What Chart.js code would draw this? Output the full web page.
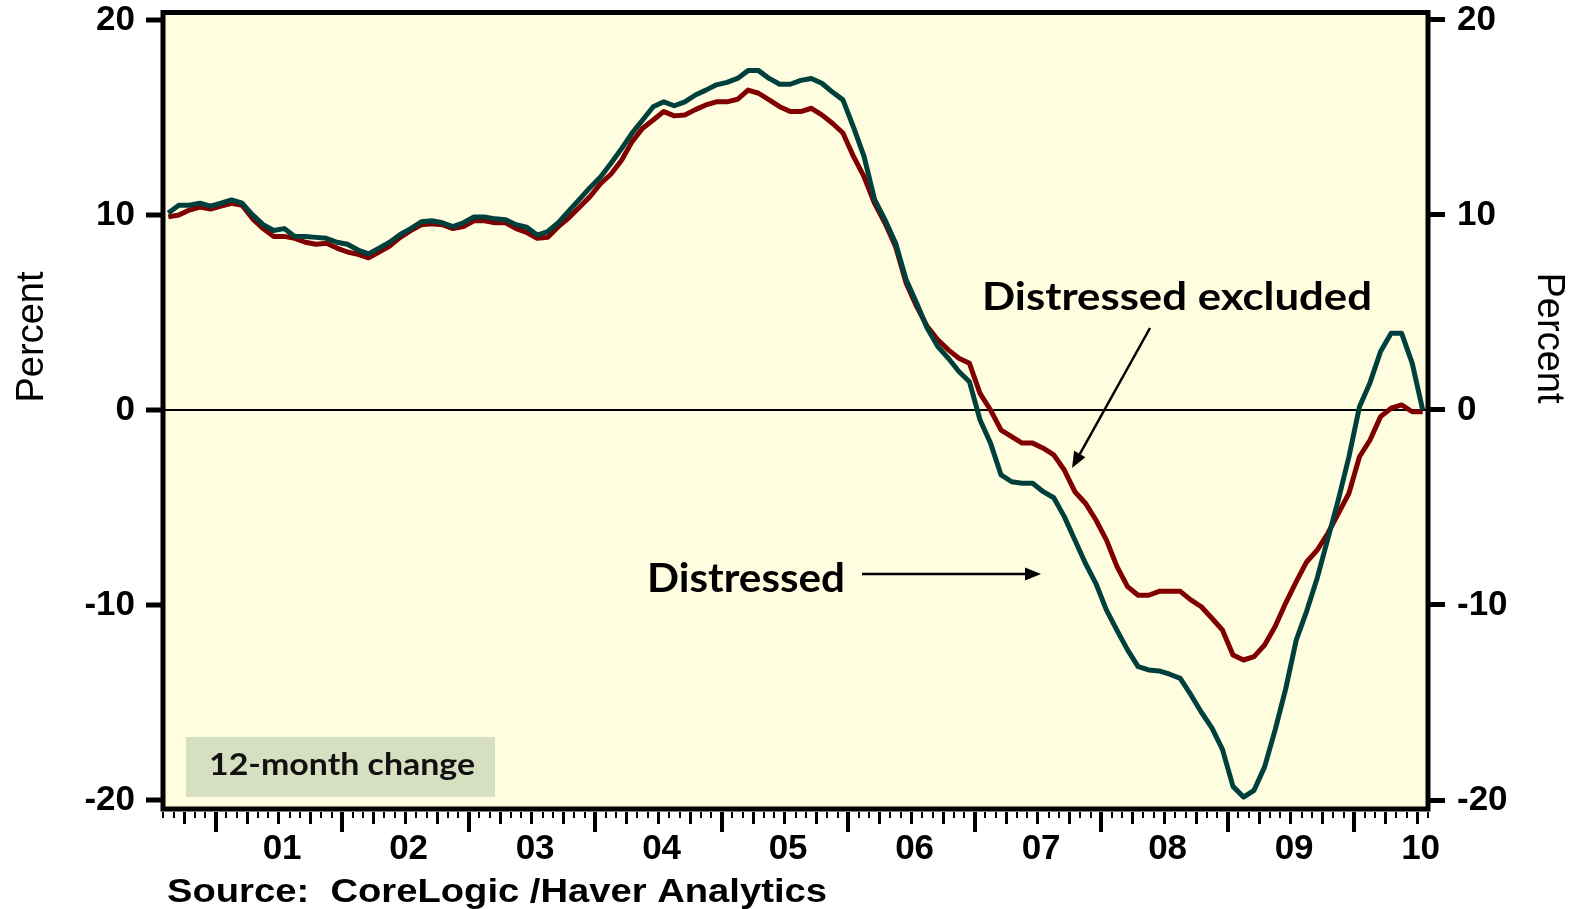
<!DOCTYPE html>
<html><head><meta charset="utf-8">
<script src="https://cdn.jsdelivr.net/npm/chart.js@4.4.1/dist/chart.umd.min.js"></script>
<style>html,body{margin:0;padding:0;background:#fff;overflow:hidden}canvas{display:block}</style>
</head><body>
<canvas id="c" width="1574" height="909"></canvas>
<script>
// Monthly observations, Aug 2000 .. Jul 2010
const firstYear = 2000, firstMonthIndex = 7; // August (0-based)
const months = [];
for (let i = 0; i < 120; i++) {
  const t = firstYear * 12 + firstMonthIndex + i;
  months.push(Math.floor(t / 12) + '-' + String(t % 12 + 1).padStart(2, '0'));
}
// 12-month change, percent: including distressed sales
const distressed = [
  10.1,10.5,10.5,10.6,10.45,
  10.6,10.77,10.6,10.0,9.5,9.2,9.3,8.9,8.9,8.85,8.8,8.6,
  8.5,8.2,8.0,8.3,8.6,9.0,9.3,9.65,9.7,9.6,9.4,9.6,
  9.9,9.9,9.8,9.75,9.5,9.37,8.97,9.15,9.6,10.2,10.8,11.4,
  11.95,12.65,13.4,14.2,14.87,15.55,15.8,15.6,15.8,16.15,16.4,16.67,
  16.8,17.0,17.4,17.4,17.0,16.7,16.7,16.9,17.0,16.75,16.3,15.9,
  14.5,13.0,10.8,9.74,8.55,6.67,5.47,4.19,3.25,2.65,1.97,1.45,
  -0.5,-1.7,-3.33,-3.68,-3.76,-3.76,-4.19,-4.5,-5.47,-6.67,-7.86,-8.9,
  -10.26,-11.3,-12.3,-13.16,-13.33,-13.38,-13.55,-13.76,-14.6,-15.5,-16.3,-17.4,
  -19.3,-19.85,-19.5,-18.3,-16.4,-14.3,-11.8,-10.3,-8.6,-6.6,-4.6,-2.4,
  0.17,1.4,3.0,3.93,3.93,2.4,0.0
];
// 12-month change, percent: distressed sales excluded
const excluded = [
  9.9,10.0,10.25,10.4,10.3,
  10.45,10.6,10.5,9.8,9.3,8.9,8.9,8.8,8.6,8.5,8.55,8.3,
  8.1,7.98,7.8,8.1,8.4,8.85,9.2,9.5,9.55,9.5,9.3,9.4,
  9.7,9.7,9.6,9.6,9.3,9.1,8.8,8.85,9.4,9.85,10.4,10.94,
  11.6,12.1,12.8,13.76,14.45,14.87,15.3,15.08,15.13,15.4,15.64,15.8,
  15.8,15.93,16.4,16.24,15.9,15.55,15.3,15.3,15.47,15.13,14.7,14.2,
  13.0,11.96,10.6,9.57,8.37,6.5,5.3,4.27,3.6,3.08,2.65,2.39,
  0.85,0.0,-1.03,-1.37,-1.7,-1.7,-1.96,-2.3,-3.08,-4.19,-4.78,-5.64,
  -6.67,-8.03,-9.06,-9.5,-9.5,-9.3,-9.3,-9.3,-9.74,-10.09,-10.68,-11.28,
  -12.56,-12.82,-12.65,-12.05,-11.1,-9.9,-8.8,-7.78,-7.18,-6.32,-5.3,-4.27,
  -2.4,-1.54,-0.34,0.09,0.26,-0.09,-0.09
];
const yearLabels = ['01','02','03','04','05','06','07','08','09','10'];
const yTicks = [-20, -10, 0, 10, 20];

// month position on the axis: months since Jan 2000, centred in the month
function monthPos(s) {
  const [y, m] = s.split('-').map(Number);
  return (y - 2000) * 12 + (m - 1) + 0.5;
}
const axisMin = monthPos(months[0]) - 0.5;
const axisMax = monthPos(months[months.length - 1]) + 0.5;

const BG = '#FFFDE0';
const GREEN = '#00403C';
const RED = '#800000';
const BOX = '#D6DFBF';

function fitText(ctx, text, x, y, width, font) {
  ctx.save();
  ctx.font = font;
  const w = ctx.measureText(text).width;
  ctx.translate(x, y);
  ctx.scale(width / w, 1);
  ctx.textAlign = 'left';
  ctx.textBaseline = 'alphabetic';
  ctx.fillText(text, 0, 0);
  ctx.restore();
}
function arrow(ctx, x1, y1, x2, y2) {
  const ang = Math.atan2(y2 - y1, x2 - x1);
  const L = 16, H = 6.5;
  ctx.save();
  ctx.strokeStyle = '#000'; ctx.fillStyle = '#000'; ctx.lineWidth = 2.5;
  ctx.beginPath();
  ctx.moveTo(x1, y1);
  ctx.lineTo(x2 - L * Math.cos(ang), y2 - L * Math.sin(ang));
  ctx.stroke();
  ctx.translate(x2, y2); ctx.rotate(ang);
  ctx.beginPath(); ctx.moveTo(0, 0); ctx.lineTo(-L, -H); ctx.lineTo(-L, H); ctx.closePath(); ctx.fill();
  ctx.restore();
}

const deco = {
  id: 'deco',
  beforeDraw(chart) {
    const { ctx, chartArea: a } = chart;
    ctx.save();
    ctx.fillStyle = '#fff';
    ctx.fillRect(0, 0, chart.width, chart.height);
    ctx.fillStyle = BG;
    ctx.fillRect(a.left, a.top, a.right - a.left, a.bottom - a.top);
    // label box
    ctx.fillStyle = BOX;
    ctx.fillRect(186, 737, 309, 60);
    ctx.fillStyle = '#111';
    fitText(ctx, '12-month change', 209, 775, 266, 'bold 30px Lato');
    ctx.restore();
  },
  afterDraw(chart) {
    const { ctx, chartArea: a } = chart;
    const xs = chart.scales.x;
    ctx.save();
    // frame
    ctx.strokeStyle = '#000';
    ctx.lineWidth = 5;
    ctx.strokeRect(a.left, a.top, a.right - a.left, a.bottom - a.top);
    // monthly tick marks under the x axis
    ctx.fillStyle = '#000';
    for (let m = Math.ceil(axisMin); m <= Math.floor(axisMax); m++) {
      const px = xs.getPixelForValue(m);
      let len = 6, w = 2;
      if (m % 12 === 0) { len = 20; w = 4; }
      else if (m % 3 === 0) { len = 12; w = 3; }
      ctx.fillRect(Math.round(px - w / 2), a.bottom + 3, w, len);
    }
    // annotations
    ctx.fillStyle = '#000';
    fitText(ctx, 'Distressed excluded', 982, 310, 390, 'bold 39px Lato');
    fitText(ctx, 'Distressed', 647, 592, 198, 'bold 41px Lato');
    arrow(ctx, 1150, 328, 1072, 468);
    arrow(ctx, 862, 574, 1041, 574);
    // axis titles
    ctx.font = '38px "Liberation Sans"';
    ctx.textAlign = 'center';
    ctx.textBaseline = 'alphabetic';
    ctx.save(); ctx.translate(43, 337); ctx.rotate(-Math.PI / 2); ctx.fillText('Percent', 0, 0); ctx.restore();
    ctx.save(); ctx.translate(1538, 338); ctx.rotate(Math.PI / 2); ctx.fillText('Percent', 0, 0); ctx.restore();
    // source
    fitText(ctx, 'Source:  CoreLogic /Haver Analytics', 167, 902, 660, 'bold 34px "Liberation Sans"');
    ctx.restore();
  }
};

const tickFont = { family: 'Liberation Sans', size: 35, weight: 'bold' };

function fixY(width) {
  return s => { s.width = width; s.paddingTop = 0; s.paddingBottom = 0; };
}

new Chart(document.getElementById('c'), {
  type: 'line',
  data: {
    datasets: [
      { label: 'Distressed', data: months.map((m, i) => ({ x: monthPos(m), y: distressed[i] })),
        borderColor: GREEN, borderWidth: 5, pointRadius: 0, tension: 0, borderJoinStyle: 'round', yAxisID: 'y' },
      { label: 'Distressed excluded', data: months.map((m, i) => ({ x: monthPos(m), y: excluded[i] })),
        borderColor: RED, borderWidth: 5, pointRadius: 0, tension: 0, borderJoinStyle: 'round', yAxisID: 'y' }
    ]
  },
  options: {
    responsive: false,
    animation: false,
    devicePixelRatio: 1,
    layout: { padding: { top: 12.5, left: 0, right: 0, bottom: 0 } },
    plugins: { legend: { display: false }, tooltip: { enabled: false } },
    scales: {
      x: {
        type: 'linear', position: 'bottom', min: axisMin, max: axisMax,
        afterFit: s => { s.height = 100; s.paddingLeft = 0; s.paddingRight = 0; },
        afterBuildTicks: s => { s.ticks = yearLabels.map(l => ({ value: parseInt(l, 10) * 12 + 6.3 })); },
        ticks: { autoSkip: false, maxRotation: 0, minRotation: 0, padding: 19, color: '#000', font: tickFont,
                 callback: (v, i) => yearLabels[i] },
        grid: { display: false, drawTicks: false },
        border: { display: false }
      },
      y: {
        position: 'left', min: -20.46, max: 20.38,
        afterFit: fixY(163),
        afterBuildTicks: s => { s.ticks = yTicks.map(v => ({ value: v })); },
        ticks: { padding: 11, color: '#000', font: tickFont, callback: v => String(v) },
        grid: {
          drawOnChartArea: true, drawTicks: true, tickLength: 17, tickWidth: 5, tickColor: '#000',
          color: c => (c.tick && c.tick.value === 0) ? '#000' : 'rgba(0,0,0,0)',
          lineWidth: c => (c.tick && c.tick.value === 0) ? 2 : 0
        },
        border: { display: false }
      },
      y2: {
        position: 'right', min: -20.46, max: 20.38,
        afterFit: fixY(146),
        afterBuildTicks: s => { s.ticks = yTicks.map(v => ({ value: v })); },
        ticks: { padding: 12, color: '#000', font: tickFont, callback: v => String(v) },
        grid: { drawOnChartArea: false, drawTicks: true, tickLength: 17, tickWidth: 5, tickColor: '#000' },
        border: { display: false }
      }
    }
  },
  plugins: [deco]
});
</script>
</body></html>
